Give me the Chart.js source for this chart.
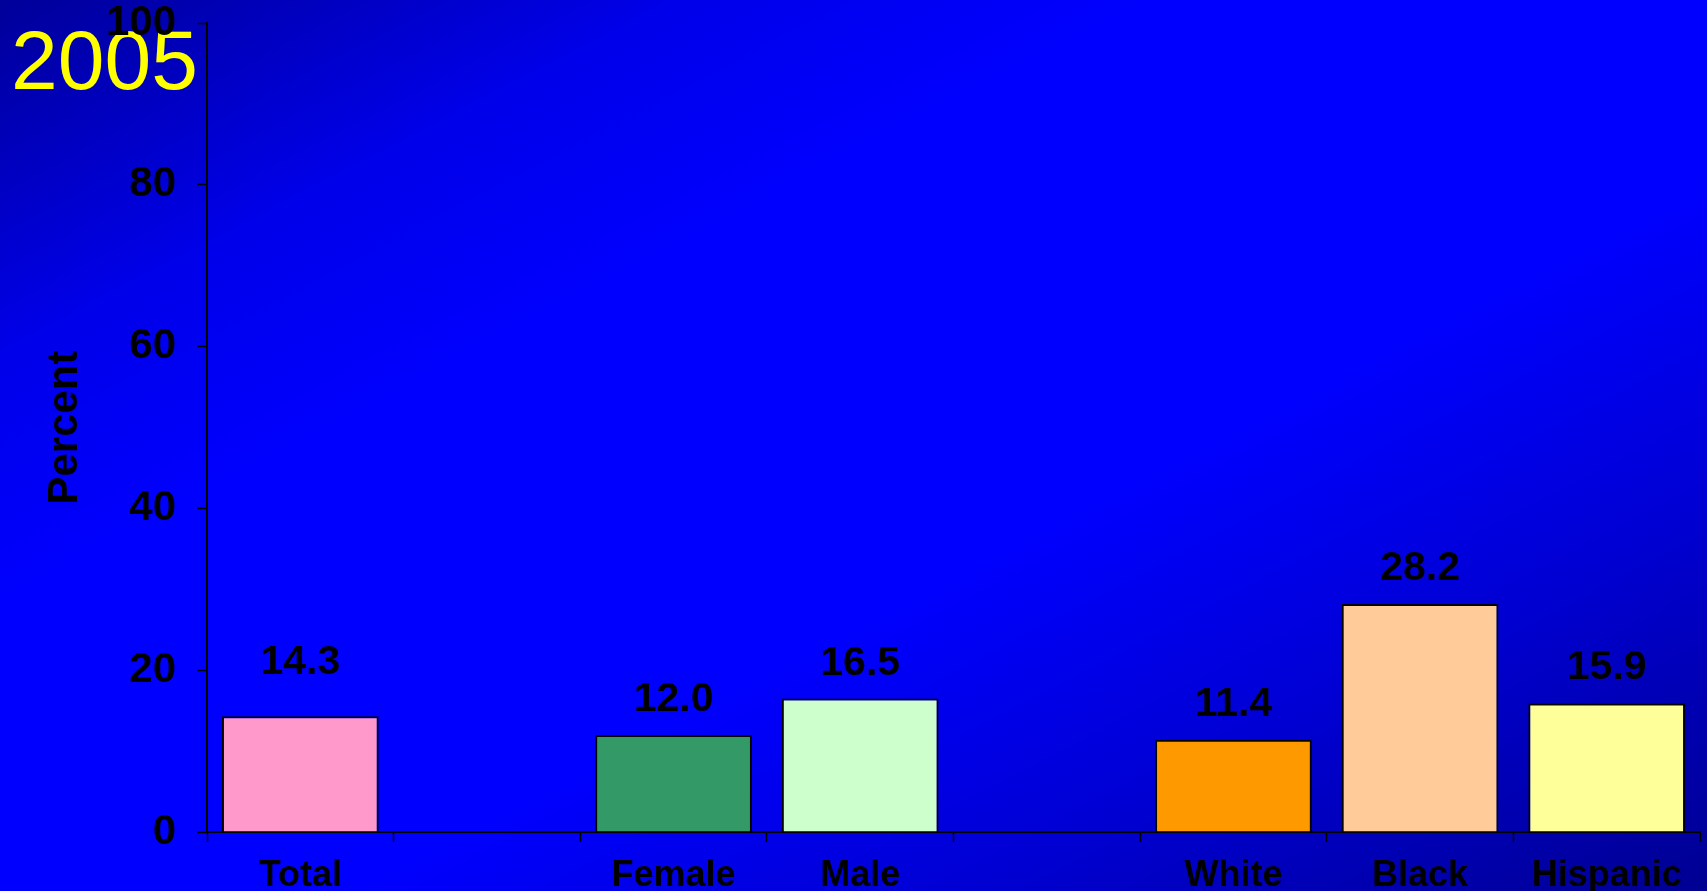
<!DOCTYPE html>
<html lang="en">
<head>
  <meta charset="utf-8">
  <title>Percent by group, 2005</title>
  <script src="https://cdn.jsdelivr.net/npm/chart.js@4/dist/chart.umd.min.js"></script>
  <style>
    html, body {
      margin: 0;
      padding: 0;
      overflow: hidden;
    }
    body {
      width: 1707px;
      height: 891px;
      background: linear-gradient(to bottom right, #00009a 0%, #0000ea 20%, #0000ff 34%, #0000ff 60%, #0000d4 78%, #000092 100%);
    }
    canvas {
      display: block;
    }
  </style>
</head>
<body>
  <canvas id="chart" width="1707" height="891"></canvas>
  <script>
    // groups along the x axis; empty names leave a gap between groups
    const groups = ['Total', '', 'Female', 'Male', '', 'White', 'Black', 'Hispanic'];
    const percents = [14.3, null, 12.0, 16.5, null, 11.4, 28.2, 15.9];
    const barColors = ['#ff99cc', null, '#339966', '#ccffcc', null, '#ff9900', '#ffcc99', '#ffff99'];
    const yTicks = [0, 20, 40, 60, 80, 100];
    const yearText = '2005';

    const FONT = '"Liberation Sans", Arial, sans-serif';

    // value above each bar, one decimal place
    const valueLabels = {
      id: 'valueLabels',
      afterDatasetsDraw(chart, args, opts) {
        const ctx = chart.ctx;
        const meta = chart.getDatasetMeta(0);
        ctx.save();
        ctx.font = 'bold 41px ' + FONT;
        ctx.fillStyle = '#000';
        ctx.textAlign = 'center';
        ctx.textBaseline = 'alphabetic';
        meta.data.forEach((bar, i) => {
          const v = percents[i];
          if (v == null) return;
          const lift = (opts.lift && opts.lift[i]) || 0;
          ctx.fillText(v.toFixed(1), bar.x, bar.y - 24 - lift);
        });
        ctx.restore();
      }
    };

    // year in the top-left corner, underneath the axes
    const yearStamp = {
      id: 'yearStamp',
      beforeDraw(chart) {
        const ctx = chart.ctx;
        ctx.save();
        ctx.font = '84px ' + FONT;
        ctx.fillStyle = '#ffff00';
        ctx.textAlign = 'left';
        ctx.textBaseline = 'alphabetic';
        ctx.fillText(yearText, 11, 89);
        ctx.restore();
      }
    };

    const ctx = document.getElementById('chart').getContext('2d');
    const chart = new Chart(ctx, {
      type: 'bar',
      data: {
        labels: groups,
        datasets: [{
          data: percents,
          backgroundColor: barColors,
          borderColor: '#000',
          borderWidth: 2,
          barPercentage: 0.84,
          categoryPercentage: 1
        }]
      },
      options: {
        responsive: false,
        animation: false,
        layout: {
          padding: { top: 0, right: 7, bottom: 0, left: 0 }
        },
        plugins: {
          legend: { display: false },
          tooltip: { enabled: false },
          valueLabels: { lift: [18, 0, 0, 0, 0, 0, 0, 0] }
        },
        scales: {
          x: {
            grid: {
              display: true,
              offset: true,
              drawOnChartArea: false,
              drawTicks: true,
              tickLength: 10,
              tickWidth: 1.5,
              tickColor: '#000'
            },
            border: { color: '#000', width: 2 },
            ticks: {
              color: '#000',
              padding: 12,
              font: { family: FONT, size: 36, weight: 'bold', lineHeight: 1.2 }
            },
            afterFit(scale) { scale.height = 59; }
          },
          y: {
            min: 0,
            max: 100,
            afterBuildTicks(scale) {
              scale.ticks = yTicks.map(v => ({ value: v }));
            },
            grid: {
              drawOnChartArea: false,
              drawTicks: true,
              tickLength: 10,
              tickWidth: 1.5,
              tickColor: '#000'
            },
            border: { color: '#000', width: 2 },
            ticks: {
              color: '#000',
              padding: 21,
              font: { family: FONT, size: 42, weight: 'bold', lineHeight: 0.1 }
            },
            title: {
              display: true,
              text: 'Percent',
              color: '#000',
              padding: { top: 40, bottom: 0 },
              font: { family: FONT, size: 42, weight: 'bold', lineHeight: 1.2 }
            },
            afterFit(scale) { scale.width = 207; }
          }
        }
      },
      plugins: [yearStamp, valueLabels]
    });
  </script>
</body>
</html>
